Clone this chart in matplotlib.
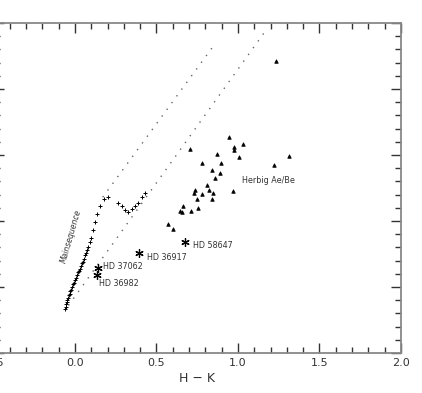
import matplotlib
matplotlib.use('Agg')
import matplotlib.pyplot as plt
from matplotlib.ticker import MultipleLocator

# main sequence (H-K, J-H)
ms_hk = [-0.06, -0.058, -0.055, -0.05, -0.047, -0.043, -0.038, -0.033, -0.028, -0.023,
         -0.018, -0.012, -0.006, 0.0, 0.006, 0.012, 0.018, 0.025, 0.032, 0.038, 0.043,
         0.05, 0.055, 0.061, 0.068, 0.074, 0.08, 0.09, 0.098, 0.11, 0.123, 0.135,
         0.153, 0.178, 0.20, 0.264, 0.288, 0.307, 0.325, 0.35, 0.368, 0.387, 0.41, 0.43]
ms_jh = [-0.17, -0.15, -0.13, -0.11, -0.10, -0.08, -0.06, -0.05, -0.03, -0.02,
         0.0, 0.02, 0.03, 0.05, 0.07, 0.09, 0.11, 0.12, 0.14, 0.16, 0.18,
         0.19, 0.21, 0.24, 0.26, 0.28, 0.30, 0.34, 0.37, 0.43, 0.49, 0.55,
         0.61, 0.67, 0.68, 0.64, 0.61, 0.58, 0.57, 0.59, 0.61, 0.64, 0.68, 0.71]

# reddening band (dotted lines)
upper_hk = [0.17, 0.84]
upper_jh = [0.68, 1.81]
lower_hk = [-0.04, 1.18]
lower_jh = [-0.14, 1.96]

# named stars
star_names = ['HD 37062', 'HD 36982', 'HD 36917', 'HD 58647']
star_hk = [0.144, 0.135, 0.395, 0.677]
star_jh = [0.144, 0.09, 0.255, 0.343]
label_hk = [0.172, 0.147, 0.442, 0.724]
label_jh = [0.152, 0.03, 0.22, 0.318]

# Herbig Ae/Be stars
hae_hk = [0.947, 0.974, 0.977, 1.031, 1.008, 0.706, 0.871, 0.894, 0.781, 0.840,
          0.890, 0.859, 0.810, 0.736, 0.824, 0.848, 0.728, 0.777, 0.971, 0.747,
          0.839, 0.661, 0.756, 0.644, 0.656, 0.713, 0.571, 0.601, 1.219, 1.311, 1.236]
hae_jh = [1.134, 1.058, 1.038, 1.081, 0.985, 1.043, 1.010, 0.942, 0.939, 0.889,
          0.861, 0.828, 0.773, 0.735, 0.735, 0.712, 0.712, 0.707, 0.725, 0.664,
          0.667, 0.616, 0.598, 0.573, 0.568, 0.578, 0.480, 0.439, 0.924, 0.990, 1.712]

fig = plt.figure(figsize=(4.22, 3.93), dpi=100)
ax = fig.add_axes([-0.0154, 0.1018, 0.9656, 0.8397])

ax.plot(upper_hk, upper_jh, color='#666666', linestyle=(0, (1, 5)), lw=1)
ax.plot(lower_hk, lower_jh, color='#666666', linestyle=(0, (1, 5)), lw=1)
ax.plot(ms_hk, ms_jh, '+', color='black', ms=3, mew=0.7)
ax.plot(star_hk, star_jh, linestyle='none', marker=(6, 2, 0), color='black', ms=6, mew=0.9)
ax.plot(hae_hk, hae_jh, '^', color='black', ms=2.6, mew=0.5)

for name, x, y in zip(star_names, label_hk, label_jh):
    ax.text(x, y, name, fontsize=5.8, color='#333333', va='center', ha='left')
ax.text(1.023, 0.803, 'Herbig Ae/Be', fontsize=5.8, color='#333333', va='center', ha='left')
ax.text(-0.025, 0.386, 'Mainsequence', fontsize=5.5, color='#333333', rotation=74,
        ha='center', va='center', style='italic')

ax.set_xlim(-0.5, 2.0)
ax.set_ylim(-0.5, 2.0)
ax.xaxis.set_major_locator(MultipleLocator(0.5))
ax.xaxis.set_minor_locator(MultipleLocator(0.1))
ax.yaxis.set_major_locator(MultipleLocator(0.5))
ax.yaxis.set_minor_locator(MultipleLocator(0.1))
ax.tick_params(which='both', direction='in', top=True, right=True, colors='#333333',
               labelsize=8, labelcolor='#333333', labelleft=False)
ax.tick_params(which='major', length=7, width=1)
ax.tick_params(which='minor', length=4, width=1)
ax.xaxis.set_major_formatter(matplotlib.ticker.FormatStrFormatter('%.1f'))
for s in ax.spines.values():
    s.set_color('#888888')
    s.set_linewidth(1.3)
ax.set_xlabel('H \u2212 K', fontsize=9, color='#333333', labelpad=3)

fig.savefig('out.png', dpi=100)
